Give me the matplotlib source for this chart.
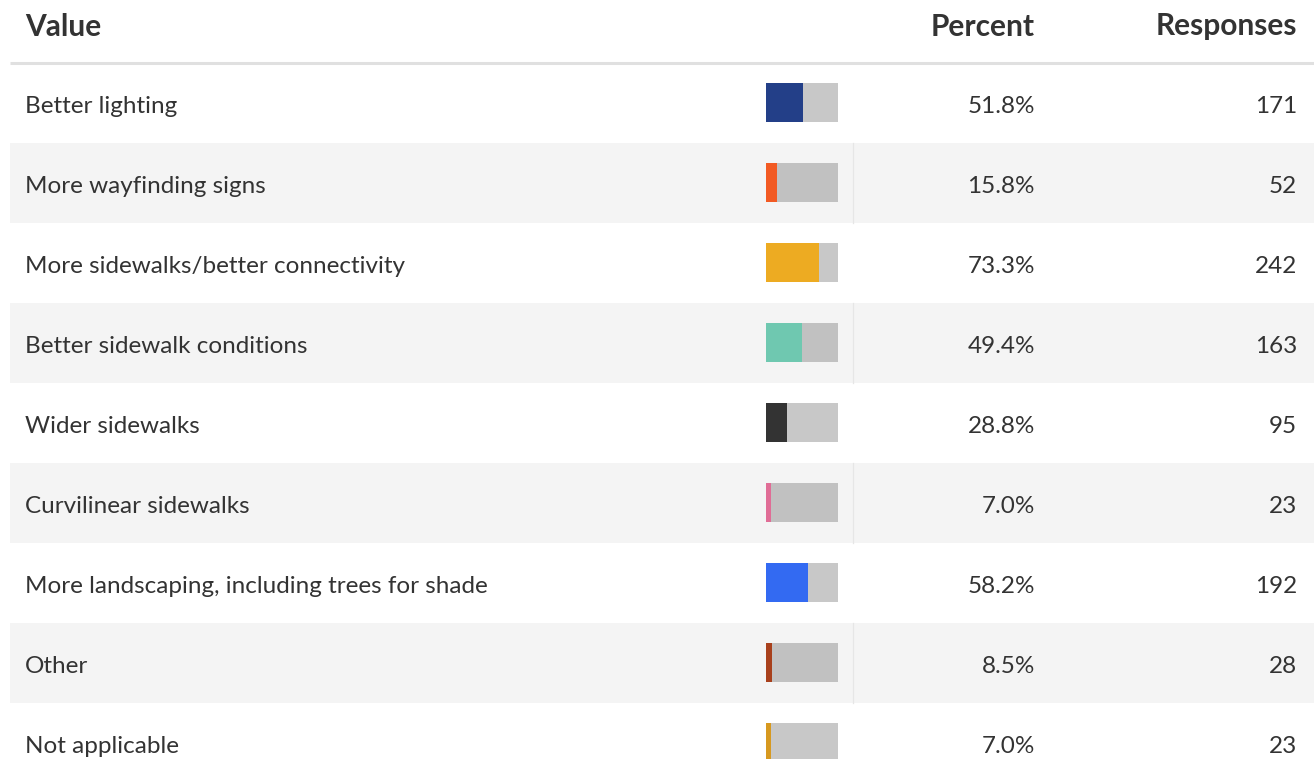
import matplotlib.pyplot as plt
from matplotlib.patches import Rectangle

plt.rcParams['font.family'] = ['Lato', 'DejaVu Sans']

labels = [
    "Better lighting",
    "More wayfinding signs",
    "More sidewalks/better connectivity",
    "Better sidewalk conditions",
    "Wider sidewalks",
    "Curvilinear sidewalks",
    "More landscaping, including trees for shade",
    "Other",
    "Not applicable",
]
percents = [51.8, 15.8, 73.3, 49.4, 28.8, 7.0, 58.2, 8.5, 7.0]
responses = [171, 52, 242, 163, 95, 23, 192, 28, 23]
bar_colors = ["#233f88", "#f25a23", "#edab22", "#6fc8b0", "#333333",
              "#e06d96", "#336af2", "#a8401c", "#d79920"]

W, H = 1314, 759
fig = plt.figure(figsize=(W / 100, H / 100), dpi=100)
ax = fig.add_axes([0, 0, 1, 1])
ax.set_xlim(0, W)
ax.set_ylim(H, 0)
ax.axis("off")

text_color = "#333333"
row_top, row_h = 63, 80
bar_x, bar_w, bar_h = 766, 72, 39
pct_right, resp_right = 1035, 1297
head_size, body_size = 21.5, 17.5

# header
head_kw = dict(fontsize=head_size, fontweight="bold", color=text_color, va="baseline")
ax.text(25, 35.5, "Value", ha="left", **head_kw)
ax.text(pct_right, 35.5, "Percent", ha="right", **head_kw)
ax.text(resp_right, 35.5, "Responses", ha="right", **head_kw)
ax.plot([10, W], [62.5, 62.5], color="#e0e0e0", lw=2.2,
        solid_capstyle="butt")

body_kw = dict(fontsize=body_size, color=text_color, va="baseline")
for i, (lab, pct, n, c) in enumerate(zip(labels, percents, responses, bar_colors)):
    top = row_top + i * row_h
    cy = top + row_h / 2
    striped = i % 2 == 1
    if striped:
        ax.add_patch(Rectangle((10, top), W - 10, row_h, color="#f4f4f4", lw=0))
        ax.plot([852.5, 852.5], [top, top + row_h], color="#e6e6e6", lw=0.9)
    track = "#c1c1c1" if striped else "#c8c8c8"
    ax.barh(cy - 0.5, bar_w, left=bar_x, height=bar_h, color=track)
    ax.barh(cy - 0.5, pct / 100 * bar_w, left=bar_x, height=bar_h, color=c)
    ax.text(25, cy + 10, lab, ha="left", **body_kw)
    ax.text(pct_right, cy + 10, f"{pct:.1f}%", ha="right", **body_kw)
    ax.text(resp_right, cy + 10, str(n), ha="right", **body_kw)

fig.savefig("out.png", dpi=100)
